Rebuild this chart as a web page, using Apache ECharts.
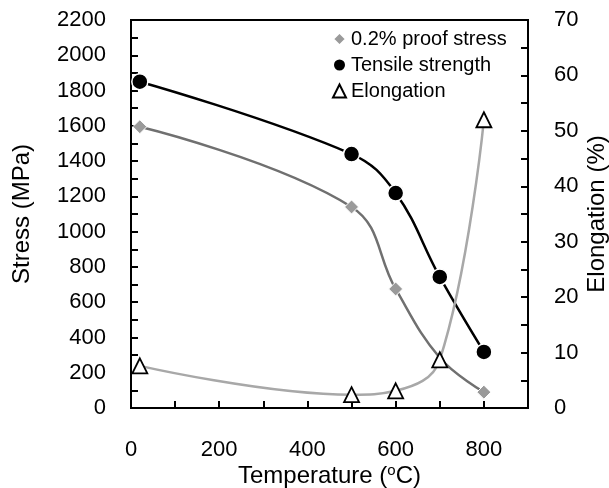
<!DOCTYPE html>
<html>
<head>
<meta charset="utf-8">
<script src="https://cdn.jsdelivr.net/npm/echarts@6/dist/echarts.min.js"></script>
<style>
  html, body { margin: 0; padding: 0; background: #fff; }
  #chart { width: 609px; height: 488px; }
</style>
</head>
<body>
<div id="chart"></div>
<script>
// 温度 (oC)
const temps = [20, 500, 600, 700, 800];
// 0.2% 屈服强度 (MPa)
const proofStress = [1595, 1140, 675, 285, 90];
// 抗拉强度 (MPa)
const tensileStrength = [1850, 1440, 1219, 743, 318];
// 延伸率 (%)
const elongation = [7.6, 2.4, 3.1, 8.7, 52];

const seriesNames = ["0.2% proof stress", "Tensile strength", "Elongation"];

const toPoints = (ys) => temps.map((t, i) => [t, ys[i]]);

(() => {
  const chart = echarts.init(document.getElementById("chart"));
  const font = "Liberation Sans, Arial, sans-serif";
  const labelStyle = { color: "#000", fontSize: 22, fontFamily: font };
  const nameStyle = { color: "#000", fontSize: 24, fontFamily: font };
  const axisLine = { show: true, lineStyle: { color: "#000", width: 2 } };
  const tick = { show: true, inside: true, length: 7, lineStyle: { color: "#000", width: 2 } };

  const option = {
    animation: false,
    grid: {
      left: 131,
      right: 81,
      top: 20,
      bottom: 80,
      outerBoundsMode: "none",
      show: true,
      borderColor: "#000",
      borderWidth: 2,
    },
    legend: {
      orient: "vertical",
      left: 327,
      top: 24,
      itemWidth: 13,
      itemHeight: 13,
      itemGap: 6,
      textStyle: { color: "#000", fontSize: 20, fontFamily: font },
      data: [
        { name: seriesNames[0], icon: "diamond" },
        { name: seriesNames[1], icon: "circle" },
        { name: seriesNames[2], icon: "triangle" },
      ],
    },
    xAxis: {
      type: "value",
      min: 0,
      max: 900,
      interval: 100,
      name: "Temperature ({sup|o}C)",
      nameLocation: "middle",
      nameGap: 55,
      nameMoveOverlap: false,
      nameTextStyle: {
        ...nameStyle,
        lineHeight: 26,
        rich: { sup: { fontSize: 15, lineHeight: 15, verticalAlign: "top", fontFamily: font, color: "#000" } },
      },
      axisLine: axisLine,
      axisTick: tick,
      splitLine: { show: false },
      axisLabel: {
        ...labelStyle,
        margin: 31,
        formatter: (v) => (v % 200 === 0 && v <= 800 ? String(v) : ""),
      },
    },
    yAxis: [
      {
        type: "value",
        min: 0,
        max: 2200,
        interval: 100,
        name: "Stress (MPa)",
        nameLocation: "middle",
        nameGap: 97,
        nameMoveOverlap: false,
        nameTextStyle: nameStyle,
        axisLine: axisLine,
        axisTick: tick,
        splitLine: { show: false },
        axisLabel: {
          ...labelStyle,
          margin: 25,
          formatter: (v) => (v % 200 === 0 ? String(v) : ""),
        },
      },
      {
        type: "value",
        position: "right",
        min: 0,
        max: 70,
        interval: 5,
        name: "Elongation (%)",
        nameLocation: "middle",
        nameRotate: 90,
        nameGap: 57,
        nameMoveOverlap: false,
        nameTextStyle: nameStyle,
        axisLine: axisLine,
        axisTick: tick,
        splitLine: { show: false },
        axisLabel: {
          ...labelStyle,
          margin: 26,
          formatter: (v) => (v % 10 === 0 ? String(v) : ""),
        },
      },
    ],
    series: [
      {
        name: seriesNames[0],
        type: "line",
        smooth: 0.4,
        data: toPoints(proofStress),
        symbol: "diamond",
        // 700 oC 的点被三角形遮住
        symbolSize: (v) => (v[0] === 700 ? 0 : 14),
        lineStyle: { color: "#707070", width: 2.5 },
        itemStyle: { color: "#9a9a9a", borderColor: "#fff", borderWidth: 1 },
        z: 2,
      },
      {
        name: seriesNames[1],
        type: "line",
        smooth: 0.4,
        data: toPoints(tensileStrength),
        symbol: "circle",
        symbolSize: 16,
        lineStyle: { color: "#000", width: 2.5 },
        itemStyle: { color: "#000", borderColor: "#fff", borderWidth: 1.5 },
        z: 3,
      },
      {
        name: seriesNames[2],
        type: "line",
        yAxisIndex: 1,
        smooth: 0.4,
        data: toPoints(elongation),
        symbol: "triangle",
        symbolSize: 15,
        lineStyle: { color: "#a8a8a8", width: 2.5 },
        itemStyle: { color: "#fff", borderColor: "#000", borderWidth: 1.8 },
        z: 4,
      },
    ],
  };
  chart.setOption(option);
})();
</script>
</body>
</html>
